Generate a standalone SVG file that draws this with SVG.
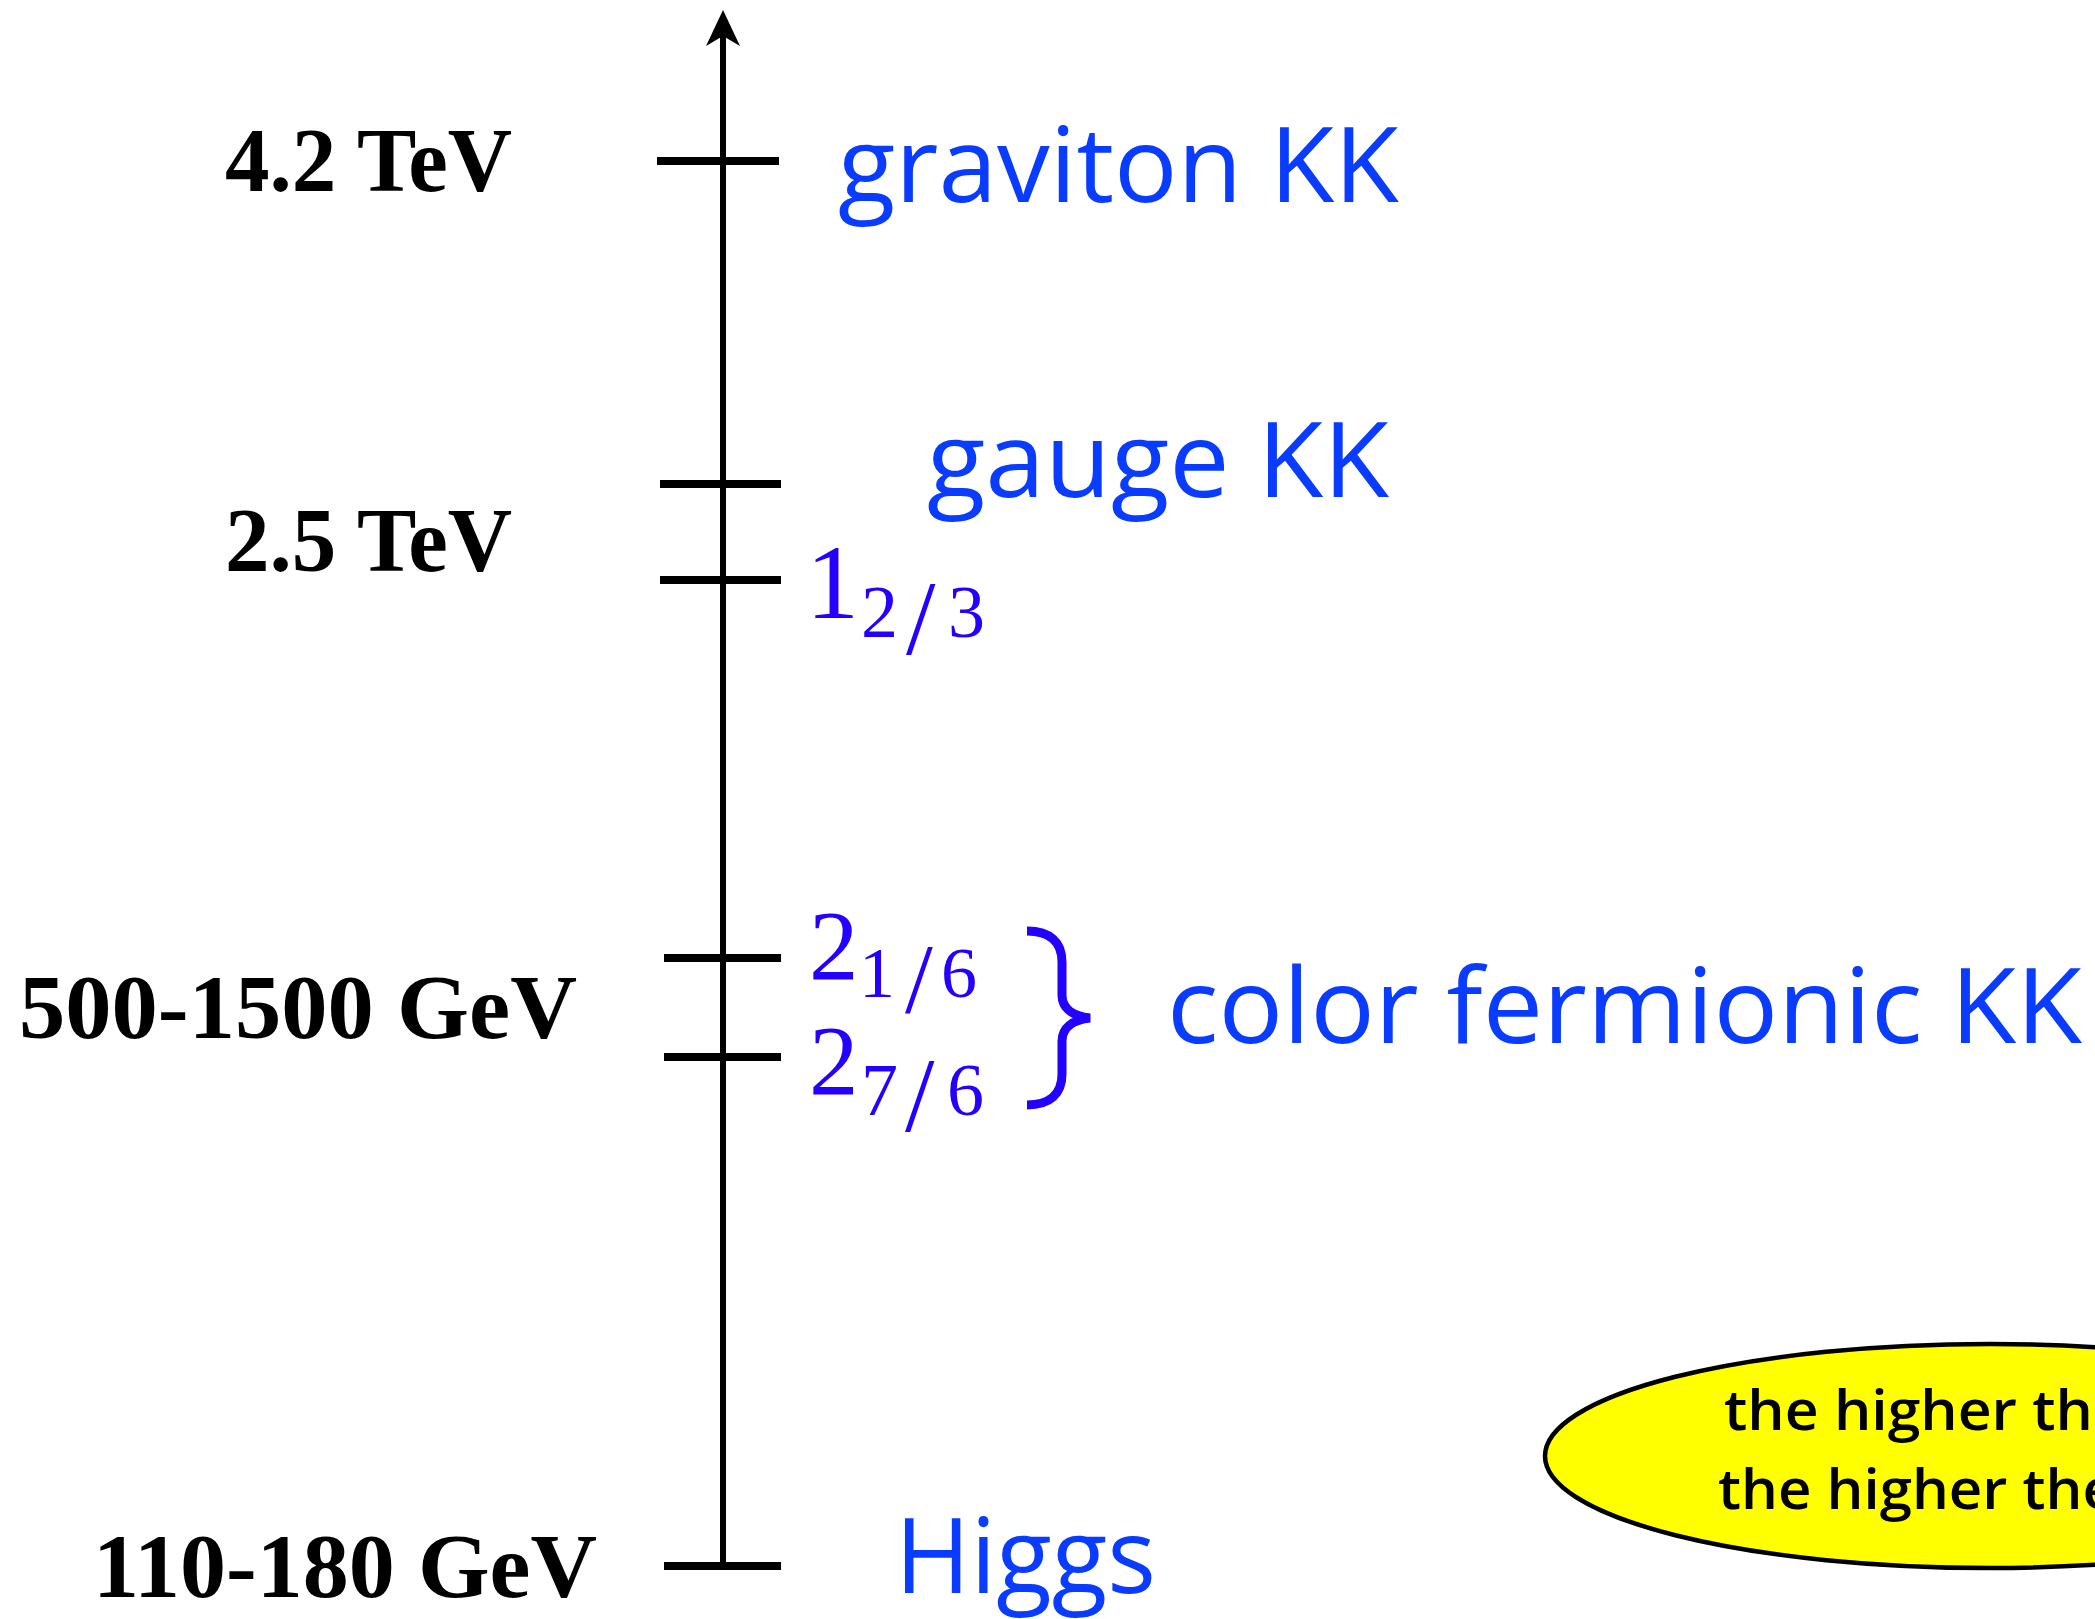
<svg xmlns="http://www.w3.org/2000/svg" width="2095" height="1619" viewBox="0 0 2095 1619">
<style>
.lbl{font-family:"Liberation Serif","Times New Roman",serif;font-weight:bold;font-size:92px;fill:#000}
.blue{font-family:"Open Sans","DejaVu Sans",sans-serif;font-size:104px;fill:#0a3cff}
.math{font-family:"Liberation Serif","DejaVu Serif",serif;fill:#2400ff}
.tick{stroke:#000;stroke-width:8;fill:none}
.note{font-family:"Open Sans","DejaVu Sans",sans-serif;font-size:56px;font-weight:600;fill:#000}
</style>
<rect width="2095" height="1619" fill="#fff"/>
<g id="axis">
<line x1="723" y1="1568" x2="723" y2="34" stroke="#000" stroke-width="6"/>
<polygon points="723,10 706,46 723,36 740,46" fill="#000"/>
</g>
<g id="ticks">
<line class="tick" x1="657" y1="161" x2="779" y2="161"/>
<line class="tick" x1="660" y1="484" x2="781" y2="484"/>
<line class="tick" x1="660" y1="580" x2="781" y2="580"/>
<line class="tick" x1="664" y1="958" x2="781" y2="958"/>
<line class="tick" x1="664" y1="1057" x2="781" y2="1057"/>
<line class="tick" x1="664" y1="1566" x2="781" y2="1566"/>
</g>
<g id="scale-labels">
<text class="lbl" x="225" y="191" textLength="287" lengthAdjust="spacingAndGlyphs">4.2 TeV</text>
<text class="lbl" x="225" y="571" textLength="287" lengthAdjust="spacingAndGlyphs">2.5 TeV</text>
<text class="lbl" x="19" y="1038" textLength="558" lengthAdjust="spacingAndGlyphs">500-1500 GeV</text>
<text class="lbl" x="93" y="1597" textLength="504" lengthAdjust="spacingAndGlyphs">110-180 GeV</text>
</g>
<g id="graviton">
<text class="blue" x="838" y="202" textLength="561" lengthAdjust="spacingAndGlyphs">graviton KK</text>
</g>
<g id="gauge">
<text class="blue" x="927" y="497" textLength="462" lengthAdjust="spacingAndGlyphs">gauge KK</text>
</g>
<g id="one-two-thirds">
<text class="math" font-size="106" x="806" y="618">1</text>
<text class="math" font-size="74"><tspan x="861" y="637">2</tspan><tspan x="906" y="654" font-size="106">/</tspan><tspan x="948" y="637">3</tspan></text>
</g>
<g id="two-one-sixth">
<text class="math" font-size="99" x="809" y="979">2</text>
<text class="math" font-size="72"><tspan x="859" y="997">1</tspan><tspan x="905" y="1012" font-size="100">/</tspan><tspan x="941" y="997">6</tspan></text>
</g>
<g id="two-seven-sixth">
<text class="math" font-size="99" x="809" y="1094">2</text>
<text class="math" font-size="74"><tspan x="861" y="1115">7</tspan><tspan x="905" y="1131" font-size="106">/</tspan><tspan x="947" y="1115">6</tspan></text>
</g>
<g id="brace">
<path d="M1027,931 C1050,931 1062,942 1062,962 L1062,995 C1062,1008 1072,1016 1090,1018 C1072,1020 1062,1028 1062,1041 L1062,1074 C1062,1094 1050,1105 1027,1105" fill="none" stroke="#2400ff" stroke-width="9"/>
</g>
<g id="color-fermionic">
<text class="blue" x="1167" y="1043" textLength="915" lengthAdjust="spacingAndGlyphs">color fermionic KK</text>
</g>
<g id="higgs">
<text class="blue" x="895" y="1593" textLength="261" lengthAdjust="spacingAndGlyphs">Higgs</text>
</g>
<g id="note">
<ellipse cx="1990" cy="1456" rx="445" ry="112" fill="#ffff00" stroke="#000" stroke-width="4.5"/>
<text class="note" x="1724" y="1430" textLength="369" lengthAdjust="spacingAndGlyphs">the higher th</text>
<text class="note" x="1718" y="1509" textLength="398" lengthAdjust="spacingAndGlyphs">the higher the</text>
</g>
</svg>
